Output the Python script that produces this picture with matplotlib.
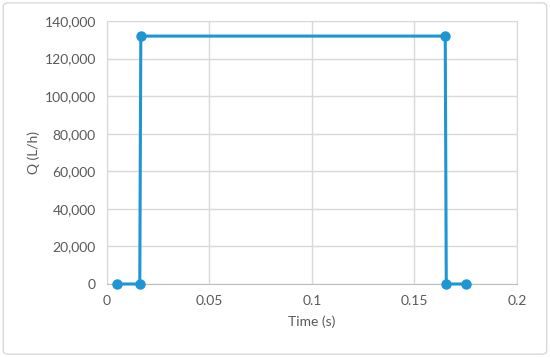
import matplotlib.pyplot as plt
from matplotlib.patches import FancyBboxPatch
from matplotlib.ticker import FuncFormatter

# data
time_s = [0.005, 0.016, 0.0165, 0.165, 0.1655, 0.175]
q_lh = [0, 0, 132000, 132000, 0, 0]

x_ticks = [0, 0.05, 0.1, 0.15, 0.2]
x_labels = ['0', '0.05', '0.1', '0.15', '0.2']
y_ticks = list(range(0, 140001, 20000))

plt.rcParams['font.family'] = ['Lato', 'DejaVu Sans']
text_col = '#595959'
grid_col = '#d9d9d9'
line_col = '#1f96d4'

fig = plt.figure(figsize=(5.5, 3.57), dpi=100)
ax = fig.add_axes([0.1945, 0.2045, 0.7455, 0.7365])

ax.plot(time_s, q_lh, color=line_col, lw=2.2, marker='o', ms=6.5,
        solid_joinstyle='round', zorder=3, clip_on=False)

ax.set_xlim(0, 0.2)
ax.set_ylim(0, 140000)
ax.set_xticks(x_ticks)
ax.set_xticklabels(x_labels)
ax.set_yticks(y_ticks)
ax.yaxis.set_major_formatter(FuncFormatter(lambda v, p: f'{int(v):,}'))

ax.grid(True, color=grid_col, lw=1)
ax.set_axisbelow(True)
for s in ['top', 'right', 'left']:
    ax.spines[s].set_color(grid_col)
ax.spines['bottom'].set_color('#bfbfbf')
ax.tick_params(length=0, colors=text_col, labelsize=10, pad=8)

ax.set_xlabel('Time (s)', color=text_col, fontsize=10, labelpad=6)
ax.set_ylabel('Q (L/h)', color=text_col, fontsize=10, labelpad=3)

# outer chart border
fig.patches.append(FancyBboxPatch((0.006, 0.008), 0.988, 0.984,
                                  boxstyle='round,pad=0,rounding_size=0.01',
                                  transform=fig.transFigure, fill=False,
                                  edgecolor='#d9d9d9', lw=1))

fig.savefig('out.png', dpi=100)
